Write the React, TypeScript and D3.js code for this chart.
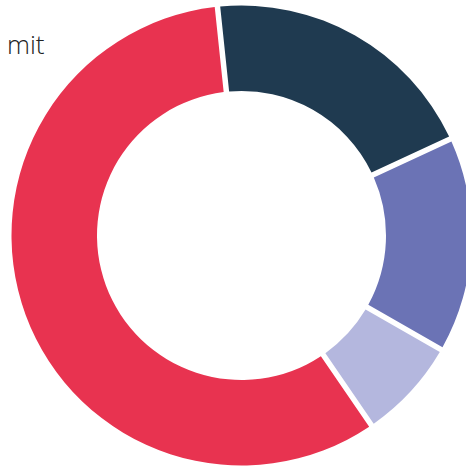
import React from "react";
import * as d3 from "d3";

const categories = ["A", "B", "C", "D"];
const values = [19.7, 15.0, 6.9, 58.4];
const colors = ["#1f3a50", "#6b73b5", "#b4b7de", "#e83350"];
const title = "mit";

const W = 466;
const H = 468;

export default function App() {
  const cx = 241.5;
  const cy = 235.5;
  const outer = 230;
  const inner = 144.5;
  const pie = d3
    .pie<number>()
    .sort(null)
    .value((d) => d)
    .startAngle((-6 * Math.PI) / 180)
    .endAngle((354 * Math.PI) / 180)
    .padAngle(5.5 / outer);
  const arcs = pie(values);
  const arc = d3
    .arc<d3.PieArcDatum<number>>()
    .innerRadius(inner)
    .outerRadius(outer)
    .padRadius(outer);
  return (
    <svg
      width={W}
      height={H}
      style={{ position: "absolute", left: 0, top: 0, background: "#fff" }}
    >
      <g transform={`translate(${cx},${cy})`}>
        {arcs.map((a, i) => (
          <path key={categories[i]} d={arc(a) || ""} fill={colors[i]} />
        ))}
      </g>
      <text
        x={7}
        y={54}
        fontFamily="'Open Sans', sans-serif"
        fontWeight={300}
        fontSize={26}
        fill="#222"
      >
        {title}
      </text>
    </svg>
  );
}
